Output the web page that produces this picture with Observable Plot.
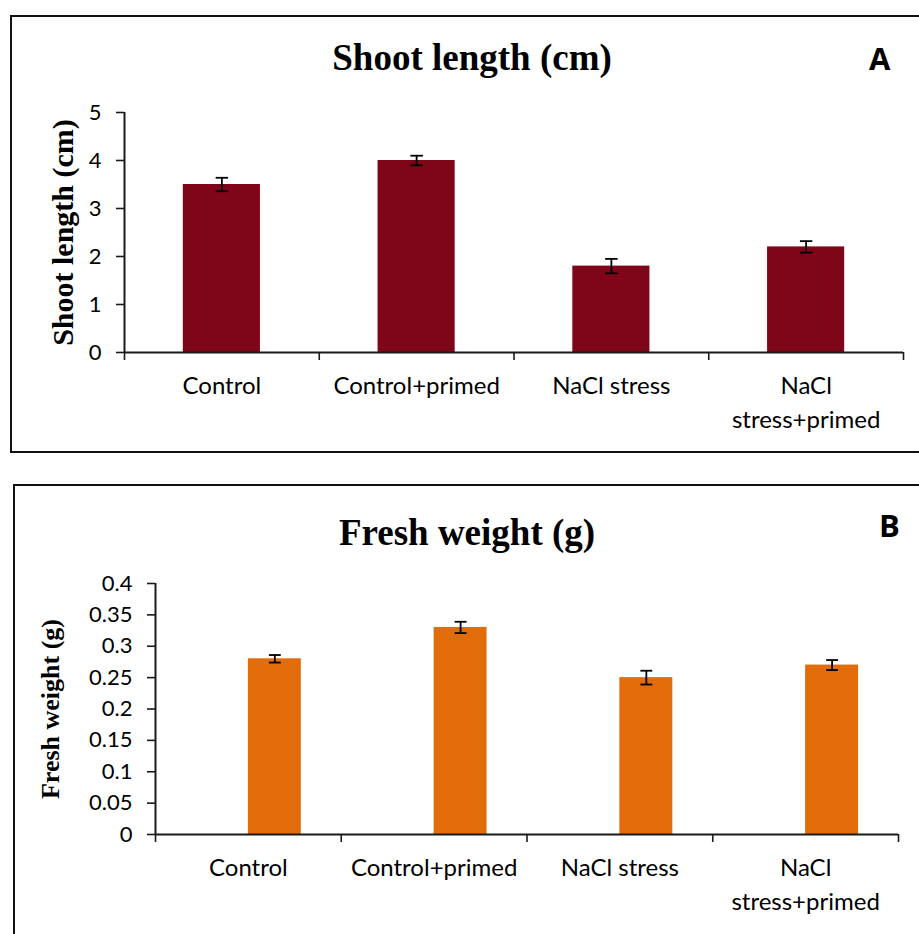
<!DOCTYPE html>
<html>
<head>
<meta charset="utf-8">
<script src="https://cdn.jsdelivr.net/npm/d3@7"></script>
<script src="https://cdn.jsdelivr.net/npm/@observablehq/plot@0.6"></script>
<style>
  html, body { margin: 0; padding: 0; background: white; }
  #root { position: relative; width: 919px; height: 934px; overflow: hidden; }
  .frame { position: absolute; border: 2px solid #111; box-sizing: border-box; }
  .ttl { position: absolute; font-family: "Liberation Serif", "Times New Roman", serif; font-weight: bold; font-size: 37px; transform: translateX(-50%); white-space: nowrap; line-height: 1; }
  .tag { position: absolute; font-family: "Open Sans", sans-serif; font-weight: bold; font-size: 31px; line-height: 1; }
  .plot-wrap { position: absolute; left: 0; }
</style>
</head>
<body>
<div id="root">
  <div class="frame" style="left:10px; top:15px; width:1000px; height:438px;"></div>
  <div class="frame" style="left:13px; top:484px; width:1000px; height:600px;"></div>
  <div class="ttl" style="left:472px; top:39px;">Shoot length (cm)</div>
  <div class="tag" style="left:869px; top:43px;">A</div>
  <div class="ttl" style="left:467px; top:514px;">Fresh weight (g)</div>
  <div class="tag" style="left:879px; top:510px;">B</div>
  <div class="plot-wrap" id="pa" style="top:0px;"></div>
  <div class="plot-wrap" id="pb" style="top:470px;"></div>
</div>
<script>
const categories = ["Control", "Control+primed", "NaCl stress", "NaCl\nstress+primed"];
const shootLength = [3.5, 4.0, 1.8, 2.2];
const shootErr = [0.14, 0.10, 0.15, 0.12];
const freshWeight = [0.28, 0.33, 0.25, 0.27];
const freshErr = [0.006, 0.009, 0.011, 0.008];
const shootTicks = [0, 1, 2, 3, 4, 5];
const freshTicks = [0, 0.05, 0.1, 0.15, 0.2, 0.25, 0.3, 0.35, 0.4];

const axisColor = "#1a1a1a";
const tickFont = "Lato, 'Open Sans', sans-serif";

function panel({values, errs, ticks, yMax, color, marginLeft, marginRight, marginTop, marginBottom, height, barStart, barEnd, yLabel, yLabelSize, yLabelX, tickFmt}) {
  const rows = categories.map((c, i) => ({
    cat: c, i, v: values[i], e: errs[i],
    xa: i + 0.5 + barStart, xb: i + 0.5 + barEnd,
    xc: i + 0.5 + (barStart + barEnd) / 2
  }));
  const cap = 0.032;
  return Plot.plot({
    width: 919,
    height,
    marginLeft, marginRight, marginTop, marginBottom,
    style: {background: "transparent", overflow: "visible", fontFamily: tickFont, color: "#000"},
    x: {domain: [0, 4], axis: null},
    y: {domain: [0, yMax], axis: null},
    marks: [
      Plot.rectY(rows, {x1: "xa", x2: "xb", y1: 0, y2: "v", fill: color}),
      Plot.ruleX(rows, {x: "xc", y1: d => d.v - d.e, y2: d => d.v + d.e, stroke: "#000", strokeWidth: 1.8}),
      Plot.link(rows, {x1: d => d.xc - cap, x2: d => d.xc + cap, y1: d => d.v + d.e, y2: d => d.v + d.e, stroke: "#000", strokeWidth: 1.8}),
      Plot.link(rows, {x1: d => d.xc - cap, x2: d => d.xc + cap, y1: d => d.v - d.e, y2: d => d.v - d.e, stroke: "#000", strokeWidth: 1.8}),
      Plot.ruleY([0], {stroke: axisColor, strokeWidth: 2}),
      Plot.ruleX([0], {stroke: axisColor, strokeWidth: 2}),
      Plot.axisY({ticks, tickSize: 8, tickPadding: 15, tickFormat: tickFmt, fontSize: 22, label: null, stroke: axisColor, strokeWidth: 1.6}),
      Plot.axisX({ticks: [0, 1, 2, 3, 4], tickSize: 8, tickFormat: () => "", label: null, stroke: axisColor, strokeWidth: 1.6}),
      Plot.text(rows, {x: d => d.i + 0.5, frameAnchor: "bottom", text: "cat", lineAnchor: "top", dy: 18, lineHeight: 1.4, fontSize: 24, fill: "#000"}),
      Plot.text([yLabel], {frameAnchor: "left", textAnchor: "middle", dx: yLabelX, text: d => d, rotate: -90, fontSize: yLabelSize, fontWeight: "bold", fontFamily: "'Liberation Serif', 'Times New Roman', serif", fill: "#000"})
    ]
  });
}

document.getElementById("pa").append(panel({
  values: shootLength, errs: shootErr, ticks: shootTicks, yMax: 5, color: "#7f0519",
  marginLeft: 124, marginRight: 16, marginTop: 112, marginBottom: 108, height: 460,
  barStart: -0.198, barEnd: 0.198, yLabel: "Shoot length (cm)", yLabelSize: 30, yLabelX: -61,
  tickFmt: d3.format("d")
}));

document.getElementById("pb").append(panel({
  values: freshWeight, errs: freshErr, ticks: freshTicks, yMax: 0.4, color: "#e36c0a",
  marginLeft: 155, marginRight: 21, marginTop: 113, marginBottom: 100, height: 464,
  barStart: 0, barEnd: 0.285, yLabel: "Fresh weight (g)", yLabelSize: 26, yLabelX: -105,
  tickFmt: d => String(+d.toFixed(2))
}));
</script>
</body>
</html>
